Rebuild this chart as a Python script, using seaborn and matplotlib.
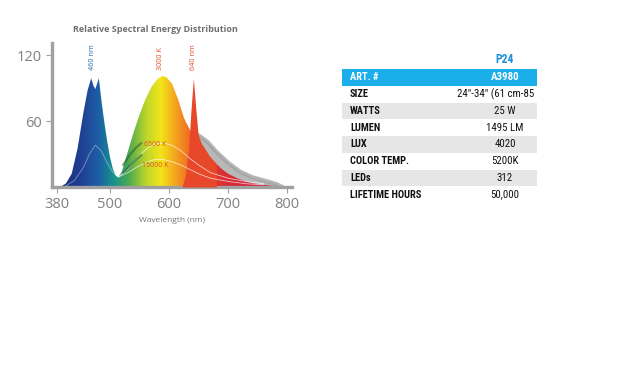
import numpy as np
import pandas as pd
import matplotlib
matplotlib.use("Agg")
import matplotlib.pyplot as plt
import seaborn as sns
from matplotlib import font_manager
from matplotlib.colors import LinearSegmentedColormap

# spectrum envelope (blue LED + 3000K phosphor)
wl_env = [415, 425, 435, 445, 455, 462, 468, 472, 475, 478, 481, 486, 490, 495, 500, 505, 510, 514,
          520, 530, 540, 550, 560, 570, 580, 588, 595, 605, 615, 625, 635, 645, 652, 660, 670,
          680, 690, 700, 715, 730, 745, 760, 775, 785]
env = [0, 3, 12, 35, 68, 88, 99, 92, 89, 94, 99, 76, 60, 42, 27, 16, 10, 9,
       14, 32, 50, 66, 80, 91, 98, 101, 100, 94, 80, 63, 52, 46, 42, 35, 27,
       21, 16, 12, 8, 5, 3, 2, 1, 0]

# 640 nm red peak
wl_red = [622, 628, 633, 637, 641, 645, 649, 654, 660, 668, 680]
red = [0, 12, 35, 70, 99, 72, 48, 40, 35, 28, 21]

# grey shadow behind the red tail
wl_gray = [650, 665, 680, 700, 720, 740, 760, 780, 792]
gray = [47, 41, 32, 22, 14, 9, 6, 3, 0]

# inner colour-temperature curves
wl_ct = [514, 530, 545, 560, 575, 590, 605, 620, 635, 650, 670, 700, 730, 760]
ct6500 = [9, 16, 26, 34, 39, 40, 38, 33, 26, 20, 13, 8, 5, 3]
ct15000 = [9, 13, 18, 22, 25, 25, 23, 20, 16, 12, 8, 5, 3, 2]
wl_bl = [425, 440, 455, 465, 475, 485, 495, 505, 514]
blue_in = [1, 6, 18, 30, 38, 33, 22, 13, 9]

# dark green strokes near the 6500K / 15000K curves
wl_stroke = [522, 533, 544, 553]
stroke_a = [20, 29, 36, 40]
stroke_b = [13, 19, 25, 29]

# colours along the wavelength
spec_nm = [410, 450, 480, 505, 530, 560, 585, 610, 635, 660, 720, 800]
spec_colors = ['#1b2f7a', '#1f3f93', '#1d5fa6', '#16938f', '#4aa851', '#bcd52c',
               '#f3e51a', '#f5a41f', '#ee6a24', '#e03a2c', '#d42638', '#c02048']

x_ticks = [410, 500, 600, 700, 800]
x_labels = ["380", "500", "600", "700", "800"]
y_ticks = [60, 120]

# table
row_names = ["ART. #", "SIZE", "WATTS", "LUMEN", "LUX", "COLOR TEMP.", "LEDs", "LIFETIME HOURS"]
row_values = ["A3980", "24\"-34\" (61 cm-85 cm)", "25 W", "1495 LM", "4020", "5200K", "312", "50,000"]
model = "P24"


def pick_font(names):
    for n in names:
        try:
            font_manager.findfont(font_manager.FontProperties(family=n), fallback_to_default=False)
            return n
        except Exception:
            pass
    return 'DejaVu Sans'


narrow_font = pick_font(['Liberation Sans Narrow', 'Roboto Condensed', 'Open Sans Condensed',
                         'Liberation Sans'])
narrow_size = 7.5 if narrow_font != 'Liberation Sans' else 6.6

sns.set_style("white")
plt.rcParams['font.family'] = ['Open Sans', 'DejaVu Sans']

fig = plt.figure(figsize=(6.4, 3.82), dpi=100)
ax = fig.add_axes([52/640, 1-187/382, 240/640, 144/382])
xlim = (401.7, 808)
ylim = (0, 131)

sns.lineplot(x=wl_gray, y=gray, ax=ax, color='#b5b5b5', lw=3, zorder=1)
ax.fill_between(wl_gray, gray, color='#a0a0a0', alpha=0.75, lw=0, zorder=1)

env_poly = ax.fill_between(wl_env, env, facecolor='none', edgecolor='none', zorder=2)
cmap = LinearSegmentedColormap.from_list(
    "spec", [((n - spec_nm[0]) / (spec_nm[-1] - spec_nm[0]), c) for n, c in zip(spec_nm, spec_colors)])
grad = np.linspace(spec_nm[0], spec_nm[-1], 400).reshape(1, -1)
im = ax.imshow(grad, extent=(spec_nm[0], spec_nm[-1], 0, ylim[1]), aspect='auto', cmap=cmap,
               vmin=spec_nm[0], vmax=spec_nm[-1], zorder=2, origin='lower')
im.set_clip_path(env_poly.get_paths()[0], transform=ax.transData)

ax.fill_between(wl_red, red, color='#e8482a', lw=0, zorder=3)

for yy in [ct6500, ct15000]:
    sns.lineplot(x=wl_ct, y=yy, ax=ax, color='white', lw=0.6, alpha=0.7, zorder=4)
sns.lineplot(x=wl_bl, y=blue_in, ax=ax, color='white', lw=0.5, alpha=0.5, zorder=4)
for yy in [stroke_a, stroke_b]:
    sns.lineplot(x=wl_stroke, y=yy, ax=ax, color='#2f5b2c', lw=1.6, alpha=0.55, zorder=4)

ax.text(470, 106, "460 nm", rotation=90, fontsize=5.2, color='#2a6db0', ha='center', va='bottom')
ax.text(586, 106, "3000 K", rotation=90, fontsize=5.2, color='#e0502a', ha='center', va='bottom')
ax.text(641, 106, "640 nm", rotation=90, fontsize=5.2, color='#e0502a', ha='center', va='bottom')
ax.text(576, 39, "6500 K", fontsize=5, color='#e0502a', ha='center', va='center', zorder=5)
ax.text(576, 20, "15000 K", fontsize=5, color='#e0502a', ha='center', va='center', zorder=5)

ax.set_xlim(*xlim)
ax.set_ylim(*ylim)
ax.set_xticks(x_ticks)
ax.set_xticklabels(x_labels)
ax.set_yticks(y_ticks)
ax.set_xlabel("Wavelength (nm)", fontsize=6, color='#777777', labelpad=4)
ax.set_ylabel("")
sns.despine(ax=ax)
for s in ['left', 'bottom']:
    ax.spines[s].set_color('#a0a0a0')
    ax.spines[s].set_linewidth(2.4)
ax.tick_params(axis='both', colors='#a0a0a0', labelcolor='#808080', labelsize=10.5,
               length=4, width=0.8, pad=3, left=True, bottom=True)
fig.text(155/640, 1-30/382, "Relative Spectral Energy Distribution", fontsize=6.5,
         fontweight='bold', color='#707070', ha='center', va='center')

# spec table
tab = fig.add_axes([342/640, 1-203/382, 195/640, 134/382])
tab.set_xlim(0, 195)
tab.set_ylim(len(row_names), 0)
tab.axis('off')
for i, (name, val) in enumerate(zip(row_names, row_values)):
    if i == 0:
        tab.axhspan(i, i + 1, color='#1aaeea', lw=0)
        c = 'white'
    else:
        if i % 2 == 0:
            tab.axhspan(i, i + 1, color='#e6e6e6', lw=0)
        c = '#111111'
    tab.text(8, i + 0.5, name, fontsize=narrow_size, fontweight='bold', color=c, va='center',
             family=narrow_font)
    tab.text(163, i + 0.5, val, fontsize=narrow_size + 0.3, color=c, va='center', ha='center',
             family=narrow_font, fontweight='bold' if i == 0 else 'normal', clip_on=True)
tab.text(163, -0.55, model, fontsize=8.5, fontweight='bold', color='#1f8fd6', ha='center',
         va='center', family=narrow_font, clip_on=False)

fig.savefig("out.png", dpi=100, facecolor='white')
